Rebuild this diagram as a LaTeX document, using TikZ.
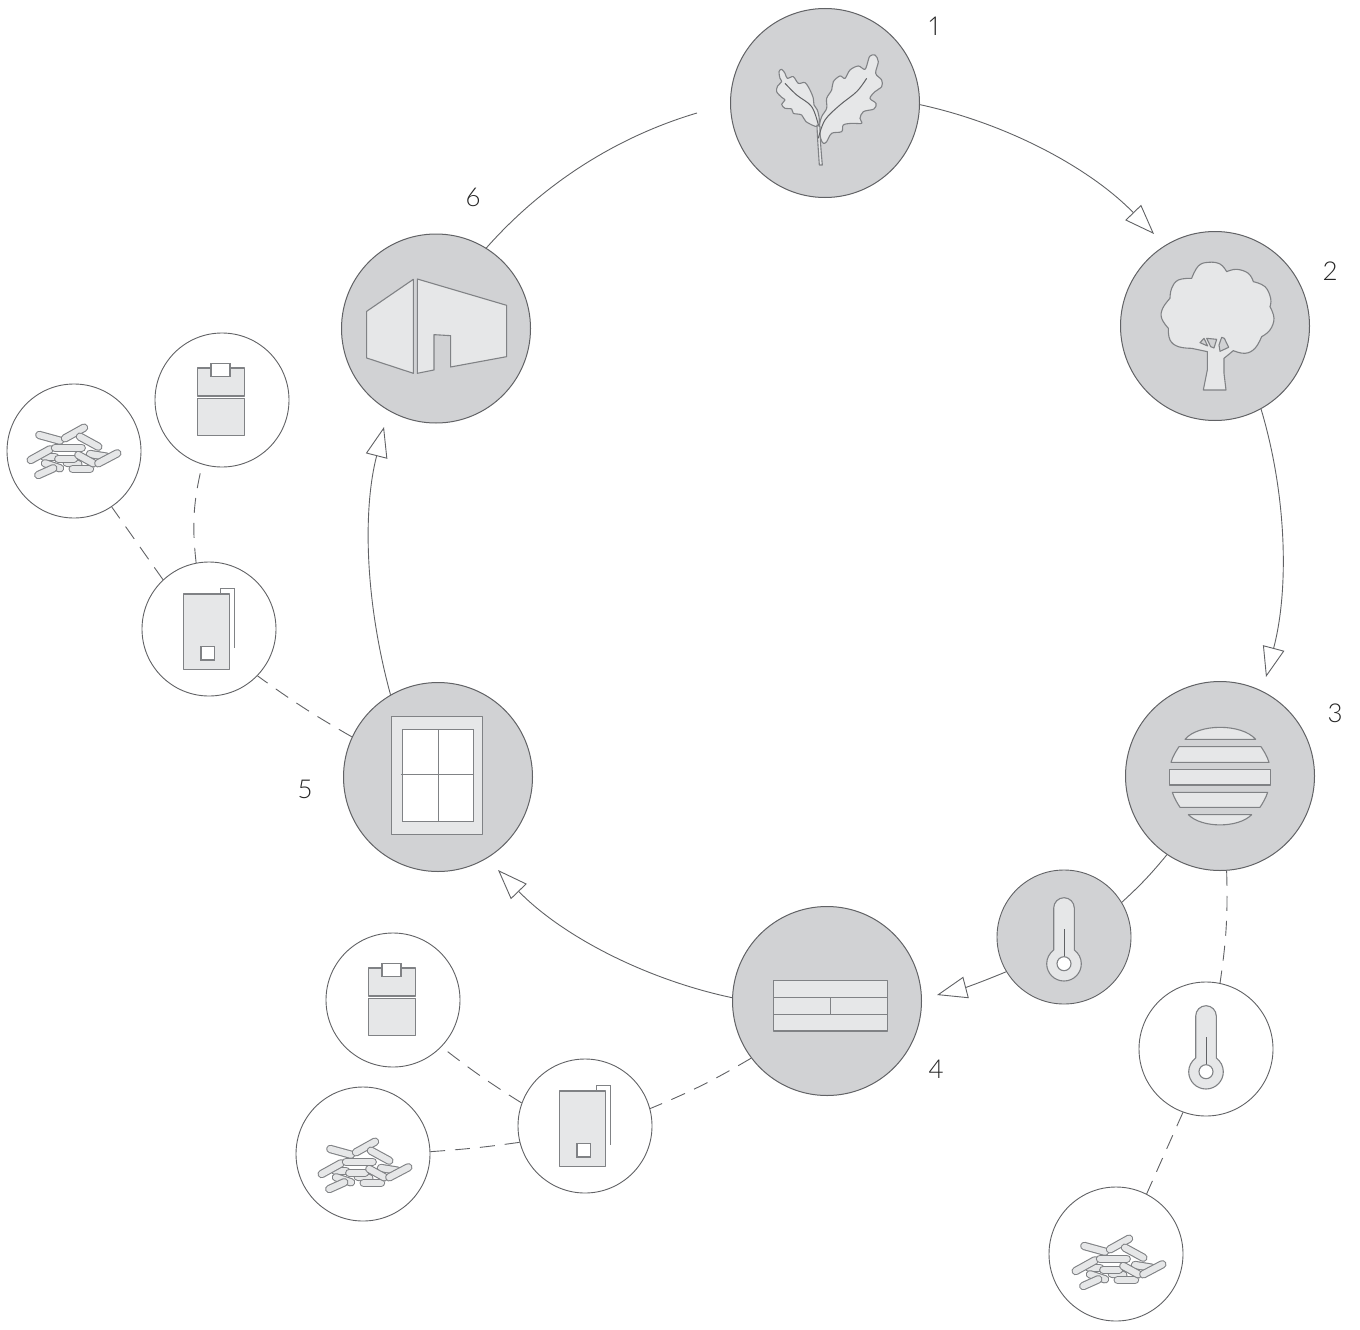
\documentclass[tikz,border=0pt]{standalone}
\usepackage{fontspec}
\usetikzlibrary{arrows.meta}
\newfontfamily\numfont{Lato}[UprightFont=* Light,Numbers=Proportional]
\definecolor{discfill}{HTML}{D1D2D4}
\definecolor{iconfill}{HTML}{E6E7E8}
\definecolor{edge}{HTML}{616265}
\definecolor{iconedge}{HTML}{808285}
\newcommand{\pelletbar}[4]{%
  \draw[iconedge,line width=8.4pt,line cap=round] (#1,#2) -- (#3,#4);
  \draw[iconfill,line width=6.2pt,line cap=round] (#1,#2) -- (#3,#4);}
\tikzset{
  bigdisc/.style={circle,draw=edge,fill=discfill,line width=1pt,minimum size=189pt,inner sep=0pt},
  smalldisc/.style={circle,draw=edge,fill=discfill,line width=.9pt,minimum size=134pt,inner sep=0pt},
  whitedisc/.style={circle,draw=edge,fill=white,line width=.9pt,minimum size=134pt,inner sep=0pt},
  numlabel/.style={font=\numfont\fontsize{26}{26}\selectfont,text=black!85,inner sep=0pt},
  flow/.style={draw=edge,line width=.9pt,-{Triangle[open,fill=white,length=30pt,width=22pt]}},
  plainflow/.style={draw=edge,line width=.9pt},
  dashflow/.style={draw=edge,line width=.9pt,dash pattern=on 15pt off 10pt},
  icon/.style={draw=iconedge,fill=iconfill,line width=1.1pt,line join=round},
  iconhole/.style={draw=iconedge,fill=discfill,line width=1.1pt,line join=round},
  iconwhite/.style={draw=iconedge,fill=white,line width=1.1pt},
  pellets/.pic={
    \pelletbar{-30}{5.7}{-19}{5.7}
    \pelletbar{16}{3}{32.7}{5.7}
    \pelletbar{-34.7}{-16}{-14}{-10.3}
    \pelletbar{-9}{-12.7}{10}{-23.3}
    \pelletbar{6}{-14.3}{24.3}{-4.3}
    \pelletbar{-29}{12.3}{-14}{17.3}
    \pelletbar{-7.3}{11.7}{4.3}{13}
    \pelletbar{-35.7}{24}{-20.7}{17.3}
    \pelletbar{-43.3}{9}{-24}{-1.7}
    \pelletbar{-1.3}{18}{16}{18}
    \pelletbar{-15.7}{7.7}{0}{7.7}
    \pelletbar{4.3}{4}{19.3}{12.3}
    \pelletbar{24.3}{12.3}{43.3}{2.3}
    \pelletbar{-19}{-3.3}{7.7}{-3.3}
  },
  stackicon/.pic={
    \draw[icon] (-24.7,-32) rectangle (22.7,-4);
    \draw[icon] (-24.7,-1.7) rectangle (22.7,35.7);
    \draw[iconwhite] (-11,-36.7) rectangle (8,-23.7);
  },
  boilericon/.pic={
    \draw[draw=iconedge,line width=1.1pt] (11.7,-35) -- (11.7,-40.7) -- (25.7,-40.7) -- (25.7,19.3);
    \draw[icon] (-25.3,-35) rectangle (20.3,40.3);
    \draw[iconwhite] (-8,17.7) rectangle (5.3,31);
  },
  thermoicon/.pic={
    \draw[icon] (-10.3,-29) .. controls (-10.3,-34.7) and (-5.7,-39.3) .. (0,-39.3)
      .. controls (5.7,-39.3) and (10.3,-34.7) .. (10.3,-29) -- (10.3,13)
      .. controls (14.6,16.2) and (17.3,21.2) .. (17.3,26.7)
      .. controls (17.3,36.3) and (9.6,44) .. (0,44)
      .. controls (-9.6,44) and (-17.3,36.3) .. (-17.3,26.7)
      .. controls (-17.3,21.2) and (-14.6,16.2) .. (-10.3,13) -- cycle;
    \draw[draw=edge,line width=.8pt] (0,-8) -- (0,20);
    \draw[draw=iconedge,fill=white,line width=1.1pt] (0,26.7) circle[radius=7pt];
  }
}
\begin{document}
\begin{tikzpicture}[x=1pt,y=-1pt]
\useasboundingbox (0,0) rectangle (1360,1330);
% discs
\node[bigdisc] (n1) at (825,103) {};
\node[bigdisc] (n2) at (1215,326) {};
\node[bigdisc] (n3) at (1220,776) {};
\node[bigdisc] (n4) at (827,1001) {};
\node[bigdisc] (n5) at (438,777) {};
\node[bigdisc] (n6) at (436,328.5) {};
\node[smalldisc] (t1) at (1064,937) {};
\node[whitedisc] (t2) at (1206,1049) {};
\node[whitedisc] (p3) at (1116,1254) {};
\node[whitedisc] (b2) at (585,1126) {};
\node[whitedisc] (s2) at (393,1000) {};
\node[whitedisc] (p2) at (363,1154) {};
\node[whitedisc] (b1) at (209,629) {};
\node[whitedisc] (s1) at (222,400) {};
\node[whitedisc] (p1) at (74,451) {};
% labels
\node[numlabel] (l1) at (934,26) {1};
\node[numlabel] (l2) at (1330,271) {2};
\node[numlabel] (l3) at (1335,713) {3};
\node[numlabel] (l4) at (936,1069) {4};
\node[numlabel] (l5) at (305,789) {5};
\node[numlabel] (l6) at (473,197) {6};
% free ends of the cycle arcs
\coordinate (into2) at (1154,234);
\coordinate (into3) at (1266,677);
\coordinate (into4) at (937,995);
\coordinate (into5) at (498,870);
\coordinate (into6) at (384,427);
\coordinate (into1) at (697,113);
% main cycle
\draw[flow] (n1.-1) .. controls (1009,124) and (1091,169) .. (into2);
\draw[flow] (n2.-61) .. controls (1287,496) and (1289,590) .. (into3);
\draw[plainflow] (n3.236.6) to[bend left=4] (t1.31.5);
\draw[flow] (t1.211.6) to[bend left=4] (into4);
\draw[flow] (n4.178) .. controls (644,979) and (561,935) .. (into5);
\draw[flow] (n5.120) .. controls (366,605) and (362,513) .. (into6);
\draw[plainflow] (n6.58) .. controls (543,184) and (616,137) .. (into1);
% dashed branches
\draw[dashflow] (n3.-86.4) to[bend left=5] (t2.78.2);
\draw[dashflow] (t2.-110) to (p3.63.4);
\draw[dashflow] (n4.-143.5) to[bend left=4] (b2.15.5);
\draw[dashflow] (b2.160.7) to[bend left=3] (s2.-44.4);
\draw[dashflow] (b2.-166.6) to[bend left=2] (p2.2.5);
\draw[dashflow] (n5.155.6) to[bend left=3] (b1.-44.4);
\draw[dashflow] (b1.101.1) to[bend left=10] (s1.-107.4);
\draw[dashflow] (b1.133.2) to (p1.-56.8);
% leaf
\begin{scope}[shift={(730,10)},scale=.3333]
\draw[icon] plot[smooth cycle,tension=.55] coordinates {(262,350)(228,335)(215,315)(190,310)(185,297)(165,295)(155,283)(165,270)(155,262)(140,245)(143,228)(155,215)(150,205)(147,185)(155,178)(165,190)(172,205)(190,200)(205,220)(225,218)(240,240)(250,265)(252,285)(262,300)(268,330)};
\draw[icon] plot[smooth cycle,tension=.55] coordinates {(280,400)(272,385)(268,350)(275,320)(290,295)(290,265)(305,240)(310,215)(330,198)(345,205)(360,180)(385,168)(405,178)(415,150)(420,138)(435,135)(445,155)(437,190)(455,210)(455,230)(435,245)(420,265)(438,280)(432,297)(400,305)(390,325)(395,340)(365,340)(340,345)(335,365)(305,370)(290,395)};
\draw[icon] (261,345) .. controls (262,380) and (265,420) .. (268,465) -- (277,465) .. controls (273,420) and (270,385) .. (270,350) -- cycle;
\draw[draw=edge,line width=1pt] plot[smooth,tension=.6] coordinates {(165,220)(200,255)(245,290)(265,345)};
\draw[draw=edge,line width=1pt] plot[smooth,tension=.6] coordinates {(410,205)(380,245)(330,285)(285,330)(265,385)};
\end{scope}
% tree
\begin{scope}[shift={(1120,230)},scale=.3333]
\draw[icon] (250,480) -- (318,480) -- (312,430) -- (312,385) -- (340,362)
 -- plot[smooth,tension=.7] coordinates {(340,362)(375,370)(405,355)(425,320)}
 -- plot[smooth,tension=.7] coordinates {(425,320)(450,300)(462,265)(450,230)}
 -- plot[smooth,tension=.7] coordinates {(450,230)(452,205)(435,170)(400,155)}
 -- plot[smooth,tension=.7] coordinates {(400,155)(385,130)(350,118)(320,125)}
 -- plot[smooth,tension=.7] coordinates {(320,125)(300,102)(265,97)(235,108)(215,145)}
 -- plot[smooth,tension=.7] coordinates {(215,145)(175,150)(155,175)(150,205)}
 -- plot[smooth,tension=.7] coordinates {(150,205)(128,235)(125,265)(145,295)}
 -- plot[smooth,tension=.7] coordinates {(145,295)(150,330)(175,350)(215,355)}
 -- (262,365) -- (262,420) -- cycle;
\draw[iconhole] (240,338) -- (252,325) -- (263,348) -- cycle;
\draw[iconhole] (260,325) -- (290,328) -- (282,354) -- (272,350) -- cycle;
\draw[iconhole] (305,322) -- (313,325) -- (326,352) -- (300,364) -- (297,345) -- cycle;
\end{scope}
% sliced disc
\begin{scope}[shift={(1125,680)},scale=.3333]
\draw[icon] (180,178) .. controls (220,130) and (350,130) .. (392,178) -- cycle;
\draw[icon] (162,200) -- (408,200) .. controls (418,215) and (427,230) .. (432,247) -- (138,247) .. controls (143,230) and (152,215) .. (162,200) -- cycle;
\draw[icon] (134,268) -- (436,268) -- (436,315) -- (134,315) -- cycle;
\draw[icon] (142,337) -- (428,337) .. controls (423,352) and (415,367) .. (405,382) -- (165,382) .. controls (155,367) and (147,352) .. (142,337) -- cycle;
\draw[icon] (190,404) -- (380,404) .. controls (340,445) and (230,445) .. (190,404) -- cycle;
\end{scope}
% boards
\begin{scope}[shift={(730,900)},scale=.3333]
\draw[icon] (131,242) rectangle (473,393);
\draw[draw=iconedge,line width=1.1pt] (131,292) -- (473,292) (131,343) -- (473,343) (302,292) -- (302,343);
\end{scope}
% window
\draw[icon] (391.7,716.7) rectangle (482.7,834.7);
\draw[iconwhite] (402.7,729.7) rectangle (473.3,821.3);
\draw[draw=iconedge,line width=1pt] (438,729.7) -- (438,821.3) (401.3,774.3) -- (473.3,774.3);
% house
\begin{scope}[shift={(340,230)},scale=.3333]
\draw[icon] (80,244) -- (220,148) -- (220,430) -- (80,384) -- cycle;
\draw[icon] (232,147) -- (500,226) -- (500,380) -- (332,411) -- (332,317) -- (282,314) -- (282,420) -- (232,430) -- cycle;
\end{scope}
% small icons
\pic at (1064,937) {thermoicon};
\pic at (1206,1045) {thermoicon};
\pic at (1119,1262) {pellets};
\pic at (365,1165) {pellets};
\pic at (74,451) {pellets};
\pic at (585,1126) {boilericon};
\pic at (209,629) {boilericon};
\pic at (393,1000) {stackicon};
\pic at (222,400) {stackicon};
\end{tikzpicture}
\end{document}
